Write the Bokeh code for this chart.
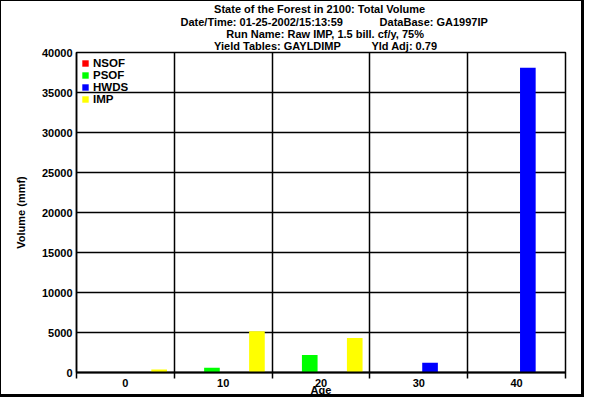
from bokeh.plotting import figure
from bokeh.models import FixedTicker, Legend, LegendItem, ColumnDataSource, Range1d, Title
from bokeh.transform import dodge
from bokeh.embed import file_html
from bokeh.resources import INLINE

# ---- data ----
ages = ["0", "10", "20", "30", "40"]
nsof = [0, 0, 0, 0, 0]
psof = [0, 600, 2200, 0, 0]
hwds = [0, 0, 0, 1230, 38100]
imp = [370, 5150, 4300, 0, 0]
series_names = ["NSOF", "PSOF", "HWDS", "IMP"]
series_colors = ["#ff0000", "#00ff00", "#0000ff", "#ffff00"]
y_ticks = [0, 5000, 10000, 15000, 20000, 25000, 30000, 35000, 40000]
NB = "\u00a0"
title_lines = [
    NB * 11 + "State of the Forest in 2100: Total Volume",
    "Date/Time: 01-25-2002/15:13:59" + NB * 12 + "DataBase: GA1997IP",
    NB * 15 + "Run Name: Raw IMP, 1.5 bill. cf/y, 75%",
    NB * 11 + "Yield Tables: GAYLDIMP" + NB * 10 + "Yld Adj: 0.79",
]

FONT = "Liberation Sans"

centers = [i + 0.5 for i in range(len(ages))]
bounds = [float(i) for i in range(len(ages) + 1)]
src = ColumnDataSource(dict(x=centers, NSOF=nsof, PSOF=psof, HWDS=hwds, IMP=imp))

p = figure(width=580, height=393, output_backend="svg", toolbar_location=None,
           x_range=Range1d(0, len(ages)), y_range=Range1d(0, 40000),
           min_border_left=75, min_border_right=20, min_border_top=50, min_border_bottom=25)
p.styles = {"box-sizing": "content-box",
            "border-left": "1px solid black", "border-top": "1px solid black",
            "border-right": "3px solid black", "border-bottom": "3px solid black"}
p.background_fill_color = "white"
p.border_fill_color = "white"
p.outline_line_color = "black"
p.outline_line_width = 1.5

offsets = [-0.345, -0.115, 0.115, 0.345]
items = []
for name, col, off in zip(series_names, series_colors, offsets):
    r = p.vbar(x=dodge("x", off), top=name, width=0.16, bottom=0, source=src,
               fill_color=col, line_color=None)
    items.append(LegendItem(label=name, renderers=[r]))

legend = Legend(items=items, location="top_left")
legend.margin = 5
legend.padding = 4
legend.spacing = -7
legend.glyph_width = 8
legend.glyph_height = 8
legend.label_height = 8
legend.label_standoff = 4
legend.label_text_font = FONT
legend.label_text_font_style = "bold"
legend.label_text_font_size = "11.5px"
legend.label_text_color = "black"
legend.border_line_color = None
legend.background_fill_alpha = 0
p.add_layout(legend, "center")

# x axis
xa = p.xaxis[0]
xa.ticker = FixedTicker(ticks=centers, minor_ticks=bounds)
xa.major_label_overrides = {c: a for c, a in zip(centers, ages)}
xa.major_tick_line_color = None
xa.major_tick_out = 0
xa.major_tick_in = 0
xa.minor_tick_out = 6
xa.minor_tick_in = 0
xa.minor_tick_line_width = 1.5
xa.minor_tick_line_color = "black"
xa.axis_line_width = 2
xa.axis_line_color = "black"
xa.major_label_text_font = FONT
xa.major_label_text_font_style = "bold"
xa.major_label_text_font_size = "11px"
xa.major_label_text_color = "black"
xa.major_label_standoff = 0
xa.axis_label = "Age"
xa.axis_label_text_font = FONT
xa.axis_label_text_font_style = "bold"
xa.axis_label_text_font_size = "11px"
xa.axis_label_text_color = "black"
xa.axis_label_standoff = -6

# y axis
ya = p.yaxis[0]
ya.ticker = FixedTicker(ticks=y_ticks, minor_ticks=[])
ya.major_tick_out = 0
ya.major_tick_in = 0
ya.minor_tick_line_color = None
ya.axis_line_width = 1.5
ya.axis_line_color = "black"
ya.major_label_text_font = FONT
ya.major_label_text_font_style = "bold"
ya.major_label_text_font_size = "11px"
ya.major_label_text_color = "black"
ya.major_label_standoff = 4
ya.axis_label = "Volume (mmf)"
ya.axis_label_text_font = FONT
ya.axis_label_text_font_style = "bold"
ya.axis_label_text_font_size = "11px"
ya.axis_label_text_color = "black"
ya.axis_label_standoff = 12

p.xgrid.ticker = FixedTicker(ticks=bounds[1:-1])
p.xgrid.grid_line_color = "black"
p.xgrid.grid_line_width = 1.5
p.ygrid.ticker = FixedTicker(ticks=y_ticks)
p.ygrid.grid_line_color = "black"
p.ygrid.grid_line_width = 1.5

p.add_layout(Title(text="\n".join(title_lines), align="left", offset=104, standoff=0,
                   text_font=FONT, text_font_style="bold", text_font_size="11px",
                   text_color="black", text_line_height=1.04), "above")

open("out.html", "w").write(file_html(p, INLINE))
